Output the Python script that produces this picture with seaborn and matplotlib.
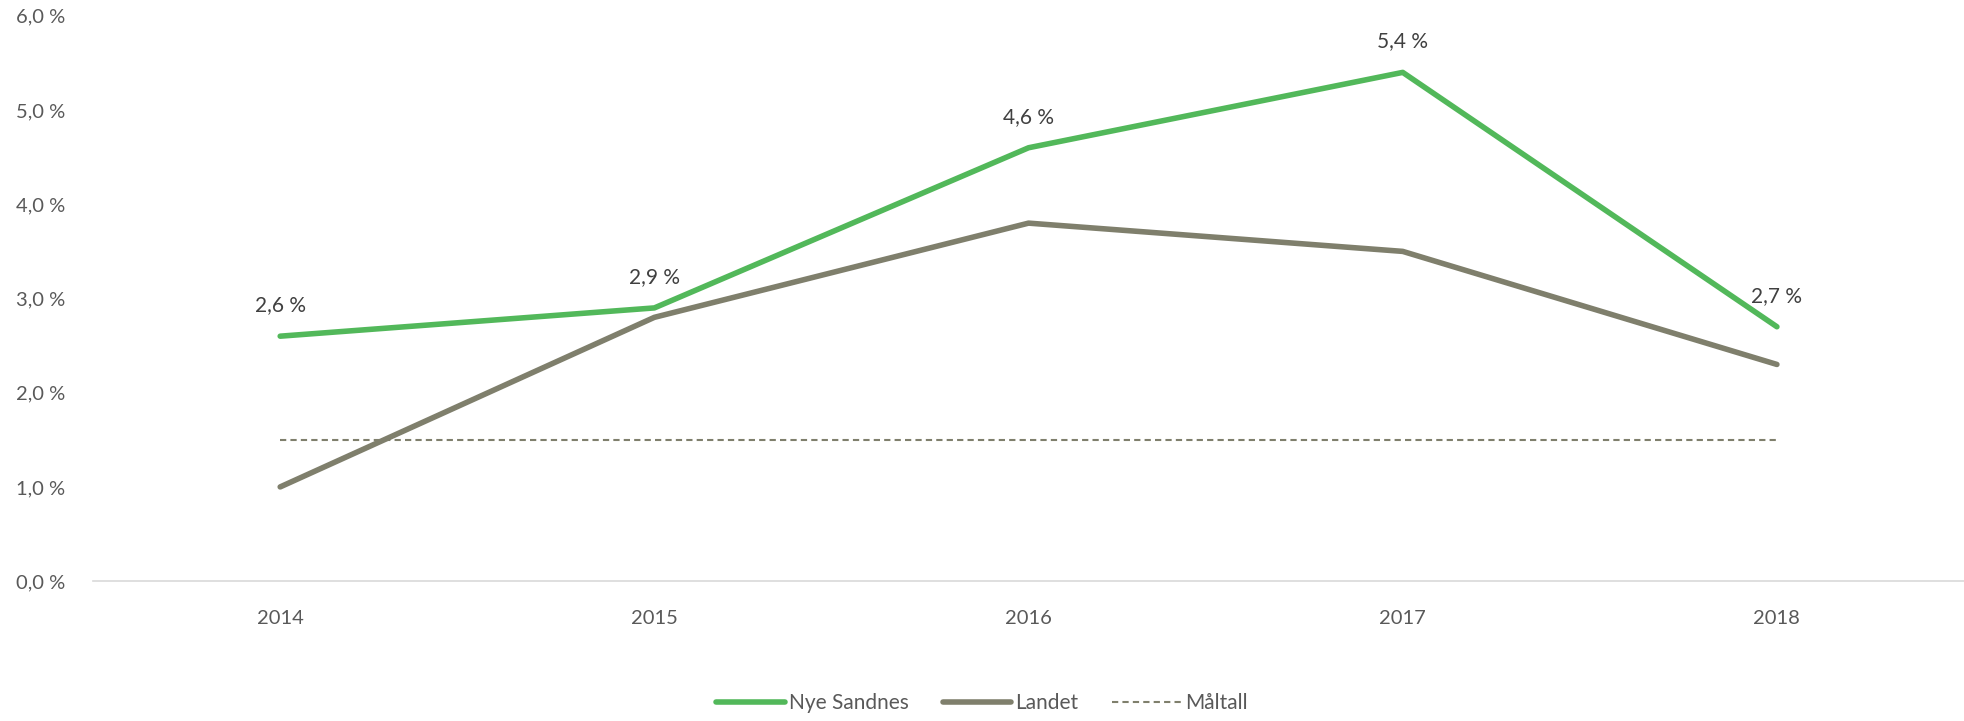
import matplotlib
matplotlib.use("Agg")
import matplotlib.pyplot as plt
import seaborn as sns
import pandas as pd
from matplotlib.lines import Line2D

years = ["2014", "2015", "2016", "2017", "2018"]
nye_sandnes = [2.6, 2.9, 4.6, 5.4, 2.7]
landet = [1.0, 2.8, 3.8, 3.5, 2.3]
maltall = [1.5, 1.5, 1.5, 1.5, 1.5]
series_names = ["Nye Sandnes", "Landet", "Måltall"]

green = "#52B85A"
grey = "#7F7F6C"

df = pd.DataFrame({
    "year": years * 3,
    "value": nye_sandnes + landet + maltall,
    "serie": [series_names[0]] * 5 + [series_names[1]] * 5 + [series_names[2]] * 5,
})

sns.set_theme(style="white")
plt.rcParams["font.family"] = ["Lato", "DejaVu Sans"]

fig = plt.figure(figsize=(19.64, 7.21), dpi=100)
ax = fig.add_axes([0.0474, 0.194, 0.9526, 0.784])

palette = {series_names[0]: green, series_names[1]: grey, series_names[2]: grey}
sizes = {series_names[0]: 4.0, series_names[1]: 4.0, series_names[2]: 1.5}
dashes = {series_names[0]: "", series_names[1]: "", series_names[2]: (3, 2)}
sns.lineplot(data=df, x="year", y="value", hue="serie", palette=palette,
             size="serie", sizes=sizes, style="serie", dashes=dashes,
             ax=ax, sort=False, legend=False)
for line in ax.get_lines():
    line.set_solid_capstyle("round")

# data labels for Nye Sandnes
for i, v in enumerate(nye_sandnes):
    ax.annotate(f"{v:.1f} %".replace(".", ","), (i, v), xytext=(0, 15),
                textcoords="offset points", ha="center", va="bottom",
                fontsize=15, color="#404040")

ax.set_xlim(-0.5, 4.5)
ax.set_ylim(0, 6)
ax.set_yticks(range(0, 7))
ax.set_yticklabels([f"{t},0 %" for t in range(0, 7)])
ax.set_xlabel("")
ax.set_ylabel("")
ax.tick_params(axis="y", labelsize=14.5, labelcolor="#595959", pad=20, length=0)
ax.tick_params(axis="x", labelsize=14.5, labelcolor="#595959", pad=21, length=0)
for s in ["top", "right", "left"]:
    ax.spines[s].set_visible(False)
ax.spines["bottom"].set_color("#D9D9D9")
ax.spines["bottom"].set_linewidth(1.2)

handles = [Line2D([], [], color=green, lw=4, solid_capstyle="round"),
           Line2D([], [], color=grey, lw=4, solid_capstyle="round"),
           Line2D([], [], color=grey, lw=1.5, ls=(0, (3, 2)))]
fig.legend(handles, series_names, loc="center", bbox_to_anchor=(0.5, 0.025),
           ncol=3, frameon=False, fontsize=15, labelcolor="#595959",
           handlelength=3.3, handletextpad=0.2, columnspacing=1.6)

fig.savefig("out.png", dpi=100)
